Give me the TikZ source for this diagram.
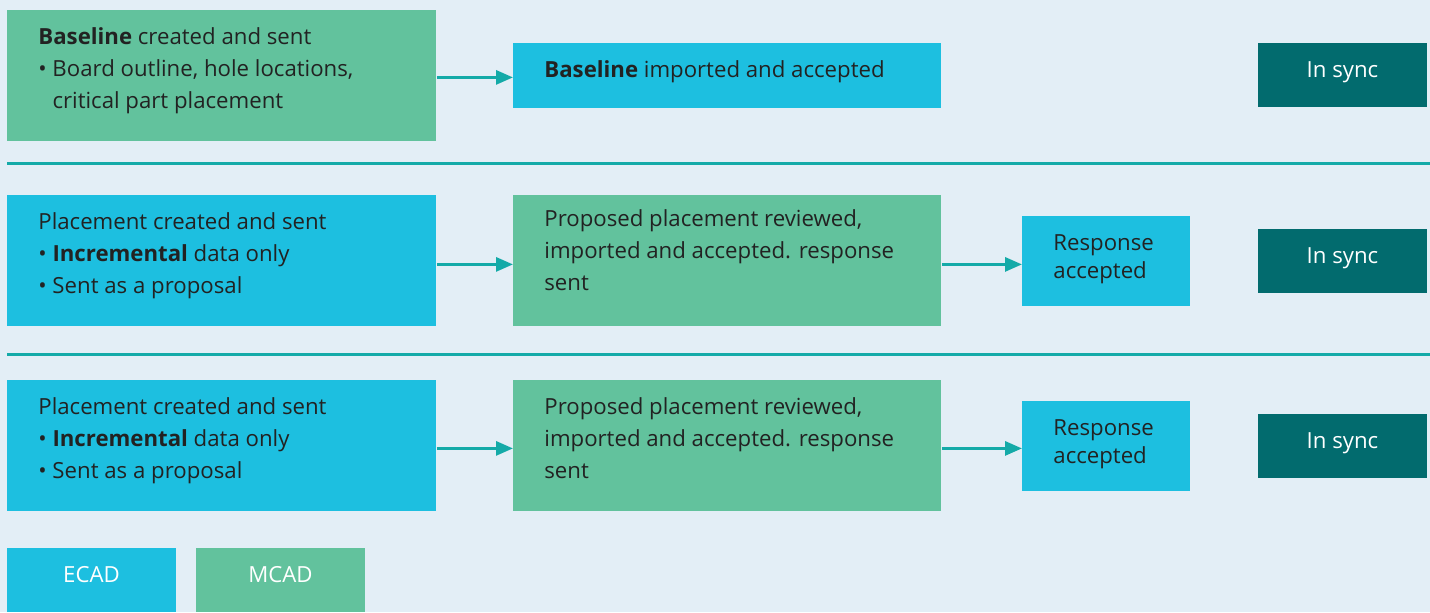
\documentclass[tikz,border=0pt]{standalone}
\usepackage{fontspec}
\setmainfont{Open Sans}
\usetikzlibrary{arrows.meta}
\definecolor{bgc}{HTML}{E3EEF6}
\definecolor{ecad}{HTML}{1DBFE0}
\definecolor{mcad}{HTML}{62C29D}
\definecolor{sync}{HTML}{026B6E}
\definecolor{teal}{HTML}{14AAA8}
\definecolor{ink}{HTML}{222222}
\tikzset{
  panel/.style 2 args={anchor=north west, inner sep=0pt, minimum width=#1*0.5pt, minimum height=#2*0.5pt},
  % multi-line texts are placed by the baseline of their last line
  body/.style={anchor=base west, inner sep=0pt, align=left, text=ink,
    font=\fontsize{11.1}{16}\selectfont},
  small/.style={body, font=\fontsize{11.1}{14}\selectfont},
  light/.style={anchor=base, inner sep=0pt, text=white, font=\fontsize{11.1}{14}\selectfont},
  flow/.style={draw=teal, line width=1.5pt, -{Triangle[length=8.5pt,width=7pt]}},
  rule/.style={draw=teal, line width=1.5pt}
}
\begin{document}
\begin{tikzpicture}[x=0.5pt, y=-0.5pt]
  \useasboundingbox (0,0) rectangle (1430,612);
  \fill[bgc] (0,0) rectangle (1430,612);

  % row separators
  \draw[rule] (7,163) -- (1430,163);
  \draw[rule] (7,354) -- (1430,354);

  % ---- row 1: baseline exchange
  \node[panel={429}{131}, fill=mcad] (a1) at (7,10) {};
  \node[body] (a1t) at (38,108) {\textbf{Baseline} created and sent\\
    • Board outline, hole locations,\\
    \hphantom{• }critical part placement};
  \node[panel={428}{65}, fill=ecad] (b1) at (513,43) {};
  \node[body] (b1t) at (544,77) {\textbf{Baseline} imported and accepted};
  \node[panel={169}{64}, fill=sync] (s1) at (1258,43) {};
  \node[light] (s1t) at (1342.5,77) {In sync};
  \draw[flow] ([yshift=-0.75pt]a1.east) -- ([yshift=-0.75pt]b1.west);

  % ---- row 2: incremental proposal
  \node[panel={429}{131}, fill=ecad] (a2) at (7,195) {};
  \node[body] (a2t) at (38,293) {Placement created and sent\\
    • \textbf{Incremental} data only\\
    • Sent as a proposal};
  \node[panel={428}{131}, fill=mcad] (b2) at (513,195) {};
  \node[body] (b2t) at (544,290) {Proposed placement reviewed,\\
    imported and accepted. response\\
    sent};
  \node[panel={168}{90}, fill=ecad] (c2) at (1022,216) {};
  \node[small] (c2t) at (1053,278) {Response\\accepted};
  \node[panel={169}{64}, fill=sync] (s2) at (1258,229) {};
  \node[light] (s2t) at (1342.5,263) {In sync};
  \draw[flow] ([yshift=-1.75pt]a2.east) -- ([yshift=-1.75pt]b2.west);
  \draw[flow] ([yshift=-1.75pt]b2.east) -- ([yshift=-1.75pt]b2.east -| c2.west);

  % ---- row 3: incremental proposal
  \node[panel={429}{131}, fill=ecad] (a3) at (7,380) {};
  \node[body] (a3t) at (38,478) {Placement created and sent\\
    • \textbf{Incremental} data only\\
    • Sent as a proposal};
  \node[panel={428}{131}, fill=mcad] (b3) at (513,380) {};
  \node[body] (b3t) at (544,478) {Proposed placement reviewed,\\
    imported and accepted. response\\
    sent};
  \node[panel={168}{90}, fill=ecad] (c3) at (1022,401) {};
  \node[small] (c3t) at (1053,463) {Response\\accepted};
  \node[panel={169}{64}, fill=sync] (s3) at (1258,414) {};
  \node[light] (s3t) at (1342.5,448) {In sync};
  \draw[flow] ([yshift=-1.25pt]a3.east) -- ([yshift=-1.25pt]b3.west);
  \draw[flow] ([yshift=-1.25pt]b3.east) -- ([yshift=-1.25pt]b3.east -| c3.west);

  % ---- legend
  \node[panel={169}{64}, fill=ecad] (le) at (7,548) {};
  \node[light] (let) at (91.5,582) {ECAD};
  \node[panel={169}{64}, fill=mcad] (lm) at (196,548) {};
  \node[light] (lmt) at (280.5,582) {MCAD};
\end{tikzpicture}
\end{document}
